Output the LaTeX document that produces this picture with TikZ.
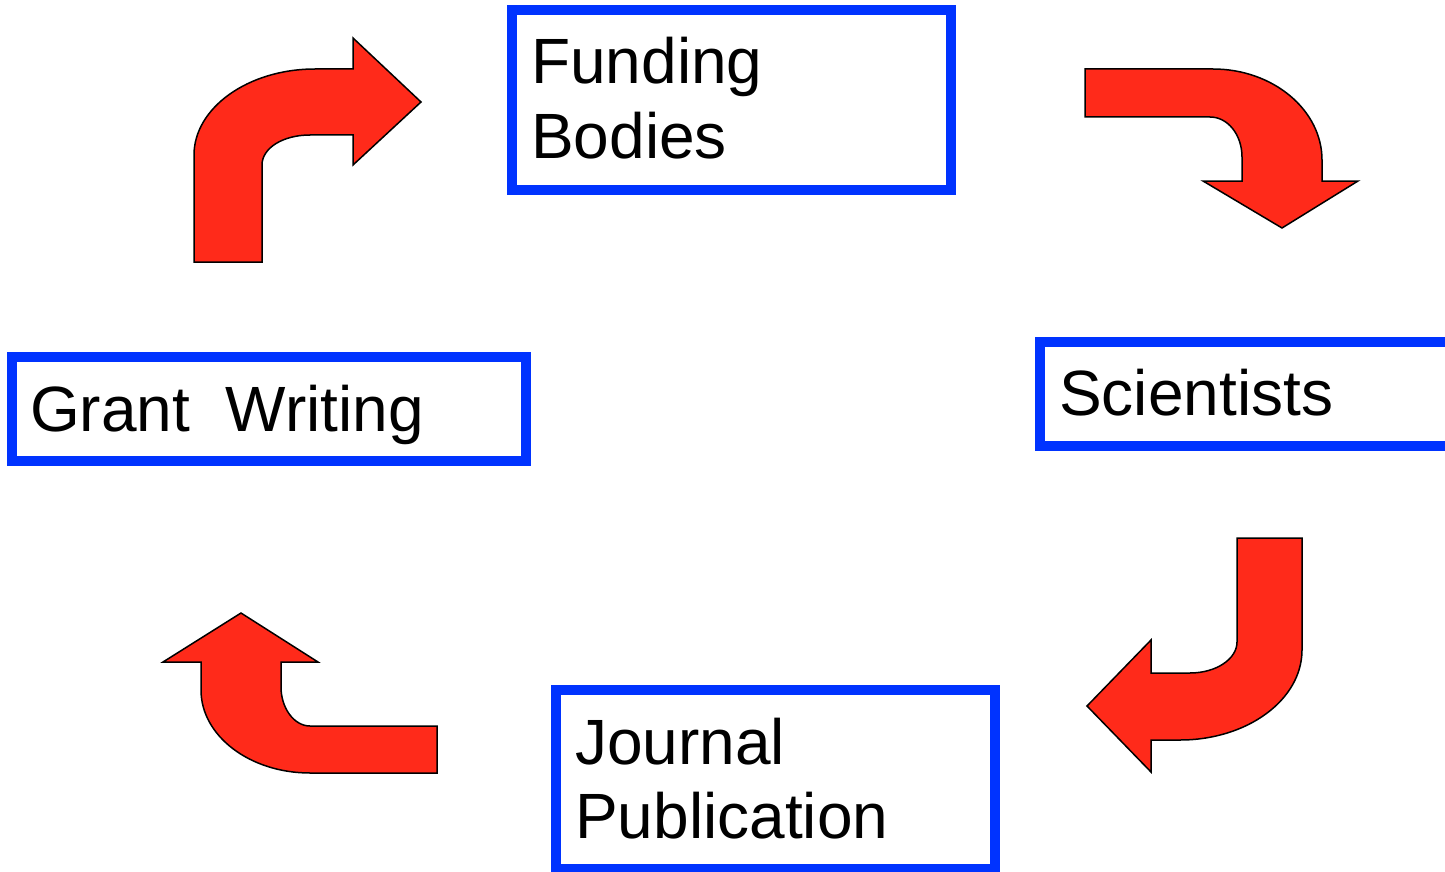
\documentclass[tikz,border=0pt]{standalone}
\usepackage{fontspec}
\setmainfont{Liberation Sans}
\definecolor{arrowred}{RGB}{255,42,26}
\definecolor{boxblue}{RGB}{0,51,255}
\begin{document}
\begin{tikzpicture}[x=1pt,y=-1pt,
  box/.style={draw=boxblue,line width=9.5pt,fill=white},
  lbl/.style={anchor=base west,inner sep=0pt,font=\fontsize{64}{74}\selectfont},
  bentarrow/.style={fill=arrowred,draw=black,line width=1.5pt,line join=miter}]
\useasboundingbox (0,0) rectangle (1445,872);
\clip (0,0) rectangle (1445,872);
% boxes
\draw[box] (512,10) rectangle (951,190);
\draw[box] (12,357) rectangle (526,461);
\draw[box] (1040,342) rectangle (1470,446);
\draw[box] (556,690) rectangle (995,869);
% labels
\node[lbl] (fund1) at (531,84) {Funding};
\node[lbl] (fund2) at (531,158) {Bodies};
\node[lbl] (grant) at (30,431) {Grant\ \ Writing};
\node[lbl] (sci) at (1059,415) {Scientists};
\node[lbl] (jour1) at (575,764) {Journal};
\node[lbl] (jour2) at (575,838) {Publication};
% arrows
\draw[bentarrow] (194,262) -- (194,155) .. controls (194,108) and (248,69) .. (315,69)
  -- (353,69) -- (353,38) -- (421,102) -- (353,165) -- (353,135) -- (310,135)
  .. controls (283,135) and (262,148) .. (262,165) -- (262,262) -- cycle;
\draw[bentarrow] (1085,69) -- (1213,69) .. controls (1273,69) and (1322,110) .. (1322,160)
  -- (1322,181) -- (1358,181) -- (1282,228) -- (1203,181) -- (1242,181) -- (1242,157)
  .. controls (1242,135) and (1228,117) .. (1210,117) -- (1085,117) -- cycle;
\draw[bentarrow] (1237,538) -- (1302,538) -- (1302,650) .. controls (1302,700) and (1247,740) .. (1180,740)
  -- (1151,740) -- (1151,772) -- (1087,706) -- (1151,640) -- (1151,673) -- (1190,673)
  .. controls (1216,673) and (1237,659) .. (1237,642) -- cycle;
\draw[bentarrow] (437,726) -- (310,726) .. controls (294,726) and (281,708) .. (281,687)
  -- (281,662) -- (318,662) -- (241,613) -- (163,662) -- (201,662) -- (201,690)
  .. controls (201,736) and (250,773) .. (310,773) -- (437,773) -- cycle;
\end{tikzpicture}
\end{document}
